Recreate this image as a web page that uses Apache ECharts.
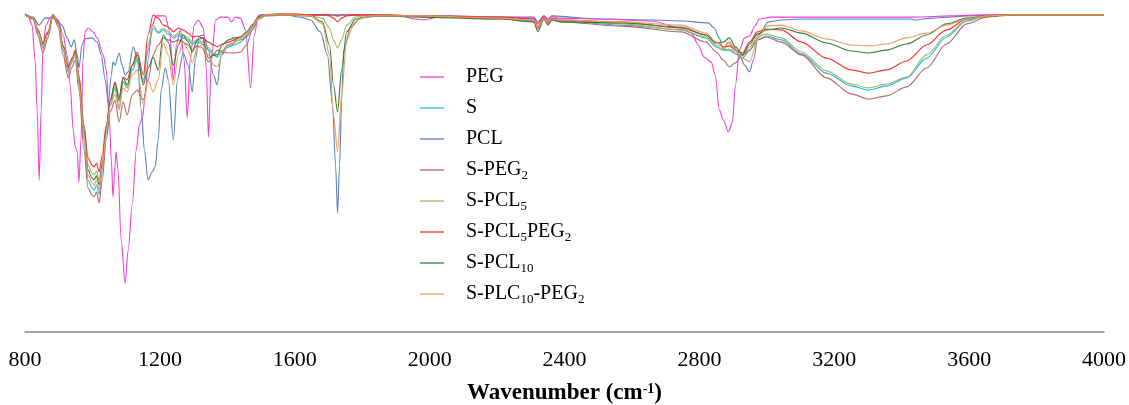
<!DOCTYPE html>
<html>
<head>
<meta charset="utf-8">
<script src="https://cdn.jsdelivr.net/npm/echarts@6/dist/echarts.min.js"></script>
<style>
  html, body { margin: 0; padding: 0; background: #fff; }
  #chart { width: 1129px; height: 405px; }
</style>
</head>
<body>
<div id="chart"></div>
<script>
// FTIR spectra, transmittance (%) vs wavenumber (cm-1)
var xTicks = [800, 1200, 1600, 2000, 2400, 2800, 3200, 3600, 4000];

// PEG
var wnPEG = [800,809,821,830,836,842,848,853,862,874,883,898,913,925,934,943,949,955,960,966,972,978,987,1002,1014,1032,1041,1050,1056,1061,1067,1070,1076,1085,1097,1106,1118,1130,1139,1148,1157,1165,1177,1189,1216,1228,1240,1249,1261,1272,1281,1290,1302,1314,1329,1338,1344,1353,1365,1379,1403,1412,1424,1439,1454,1469,1480,1492,1528,1766,1914,1959,1983,2009,2033,2211,2309,2321,2339,2351,2363,2381,2508,2657,2746,2776,2797,2814,2835,2847,2859,2871,2886,2898,2907,2919,2934,2949,2963,2978,3014,3251,3438,3548,3646,4000];
var tPEG = [99.4,98.8,95.9,85.0,69.4,47.5,69.4,88.1,95.9,98.1,99.1,97.5,92.8,86.6,77.2,63.1,57.8,56.3,46.9,60.0,85.0,93.8,95.0,93.8,91.9,86.6,81.9,66.3,53.8,42.2,52.2,56.3,50.6,28.8,15.3,25.6,39.7,56.9,64.7,66.9,74.1,85.0,95.9,98.8,98.8,94.4,78.8,89.7,94.4,85.0,66.9,85.0,95.9,97.5,95.0,81.9,60.9,85.0,97.5,98.4,98.4,96.9,98.4,98.1,94.4,76.3,92.8,98.8,99.1,99.1,98.8,97.8,97.5,98.1,98.8,98.4,98.1,96.3,98.8,97.5,98.8,98.1,97.8,97.2,95.0,93.4,89.7,85.9,84.4,80.3,69.4,66.3,62.5,65.6,77.2,88.1,91.9,92.5,95.3,97.8,98.4,98.4,98.4,98.8,99.1,99.1];

// PCL
var wnPCL = [800,824,842,859,889,910,925,937,946,955,960,969,978,999,1014,1026,1038,1047,1056,1061,1067,1079,1088,1097,1106,1121,1133,1145,1154,1165,1177,1186,1195,1204,1216,1225,1240,1252,1269,1284,1296,1305,1317,1329,1344,1359,1370,1382,1400,1415,1430,1445,1460,1477,1498,1558,1617,1647,1676,1697,1712,1721,1727,1733,1739,1745,1766,1795,1846,1974,2309,2321,2339,2351,2363,2508,2657,2746,2826,2844,2859,2871,2886,2901,2919,2934,2949,2960,2975,3005,3043,3103,3251,3429,3438,3489,3599,3697,4000];
var tPCL = [99.4,98.4,95.9,98.1,98.1,95.9,91.9,89.1,91.3,86.6,82.5,89.7,91.6,91.9,90.6,86.6,78.8,71.6,80.3,84.4,83.4,87.2,83.4,80.3,81.3,89.1,85.6,69.4,56.9,47.5,50.0,51.6,60.0,75.6,82.5,78.8,60.0,78.8,87.2,83.4,75.0,85.0,92.5,92.8,88.1,80.3,77.2,86.6,89.7,89.7,92.2,91.3,92.8,95.9,99.1,99.4,98.4,97.5,93.8,86.6,70.9,52.2,37.2,52.2,72.5,88.1,95.3,98.1,98.8,98.8,98.4,96.9,98.8,97.8,98.8,97.8,97.5,97.2,96.6,95.0,91.9,88.1,90.6,89.1,86.6,83.4,81.3,85.0,92.8,96.9,97.5,97.8,97.8,97.8,97.5,98.1,98.8,99.1,99.1];

// the six blend samples share one wavenumber grid
var wnSample = [800,824,839,853,868,883,898,913,928,940,949,960,975,987,999,1005,1012,1020,1029,1041,1053,1067,1079,1091,1103,1118,1133,1151,1165,1180,1195,1210,1225,1240,1255,1269,1284,1296,1311,1326,1344,1359,1370,1385,1403,1421,1439,1457,1474,1492,1513,1587,1647,1682,1703,1715,1727,1739,1754,1780,1825,1974,2211,2309,2321,2339,2351,2363,2390,2568,2746,2820,2850,2871,2889,2907,2928,2949,2972,2999,3043,3103,3177,3251,3302,3355,3415,3474,3533,3593,3652,3727,4000];

var tS = [99.1,98.1,93.4,88.8,92.8,99.1,96.3,88.1,81.3,84.4,
  86.6,77.2,60.0,47.5,45.0,44.4,45.9,43.1,50.0,61.6,
  70.9,76.3,70.0,78.1,76.3,81.9,85.0,78.1,88.1,95.0,
  93.4,94.4,93.1,91.9,92.8,91.9,91.3,90.0,90.6,90.0,
  88.1,86.6,85.9,87.5,89.1,89.7,90.6,92.2,95.0,97.8,
  99.1,99.1,99.1,99.1,99.1,99.1,98.8,99.1,99.1,99.1,
  99.1,98.8,98.1,97.2,95.0,98.1,96.6,97.8,97.2,95.9,
  94.4,91.9,89.1,88.1,88.1,86.9,85.6,88.1,91.3,92.5,
  91.3,86.9,80.9,76.9,75.6,76.9,79.4,85.6,92.2,97.2,
  98.8,99.1,99.1];

var tSPEG2 = [99.1,97.8,92.5,87.2,91.9,98.8,95.6,86.6,79.4,82.8,
  85.0,75.6,56.9,45.0,42.8,42.2,43.8,40.3,47.5,60.0,
  68.8,72.5,65.6,71.9,67.8,74.1,75.6,72.5,78.8,86.6,
  89.7,91.9,91.3,90.6,91.3,90.6,89.7,88.1,89.4,88.8,
  84.4,86.6,88.1,87.5,87.2,87.2,87.5,89.7,94.4,97.8,
  98.8,99.1,99.1,99.1,99.1,99.1,98.8,99.1,99.1,99.1,
  99.1,98.8,97.8,96.9,94.7,97.8,96.3,97.5,96.9,95.6,
  93.8,90.6,87.5,85.0,82.8,84.1,86.6,88.1,91.3,92.2,
  90.6,86.6,79.4,74.4,72.8,73.8,76.6,82.5,90.0,96.3,
  98.4,99.1,99.1];

var tSPCL5 = [99.1,98.1,93.8,89.7,93.4,99.1,96.6,89.1,81.9,85.0,
  87.2,78.8,63.1,52.2,49.7,49.1,50.3,47.5,53.1,63.1,
  71.6,76.6,71.9,78.1,76.3,81.9,85.6,78.8,89.7,95.9,
  93.8,95.0,93.8,92.5,93.4,92.8,91.9,90.6,91.3,90.6,
  88.8,87.2,86.6,88.1,89.7,90.6,91.3,92.8,95.3,98.1,
  99.1,99.1,98.8,98.1,95.0,91.3,88.8,91.3,95.9,98.4,
  99.1,98.8,98.1,97.5,95.3,98.4,96.9,98.1,97.5,96.3,
  94.4,92.2,89.7,88.1,88.4,87.5,86.3,89.1,92.2,93.1,
  91.9,87.5,81.6,77.5,76.3,77.5,79.7,86.6,92.8,97.5,
  98.8,99.1,99.1];

var tSPCL5PEG2 = [99.1,98.1,94.4,90.3,93.8,99.1,96.9,89.7,83.1,85.6,
  88.1,80.3,64.7,54.4,52.2,51.6,52.8,50.0,55.3,64.7,
  72.5,78.1,73.4,79.7,78.8,83.4,87.5,80.3,92.8,99.1,
  98.1,95.9,95.3,93.8,95.0,94.4,93.4,92.2,92.5,91.9,
  90.6,89.7,89.1,90.0,90.6,91.3,92.2,93.4,95.9,98.4,
  99.1,99.4,99.1,99.1,98.8,98.1,96.9,98.1,98.8,99.1,
  99.1,98.8,98.4,97.8,95.3,98.4,96.9,98.1,97.5,96.9,
  95.0,92.8,90.6,89.1,89.4,88.1,87.2,90.6,93.8,94.7,
  94.4,90.6,85.6,81.9,80.9,81.9,84.7,89.7,94.4,97.8,
  98.8,99.1,99.1];

var tSPCL10 = [99.1,98.1,94.1,90.0,93.4,99.1,96.6,89.4,82.5,85.3,
  87.5,79.4,63.1,50.6,48.1,47.5,48.8,45.9,52.2,63.8,
  72.5,77.8,72.5,79.4,77.2,83.4,86.6,77.2,82.5,85.9,
  81.9,92.8,90.6,83.4,89.7,92.8,90.6,87.5,91.3,91.9,
  85.6,86.6,86.6,89.7,91.3,91.9,92.2,93.8,95.9,98.4,
  99.1,99.1,98.8,96.9,89.7,77.2,68.8,81.9,93.8,97.8,
  98.8,98.4,97.8,96.9,93.8,97.8,95.9,97.5,96.9,96.6,
  95.3,92.8,90.3,90.6,91.9,89.1,86.6,90.0,93.1,94.4,
  95.0,93.4,90.3,87.8,87.2,88.1,90.0,92.8,96.3,98.1,
  98.8,99.1,99.1];

var tSPLC10PEG2 = [99.1,98.1,93.8,89.4,93.1,99.1,96.6,88.8,81.9,85.0,
  86.9,78.1,61.6,49.1,46.6,45.9,47.5,44.4,51.3,62.5,
  70.9,74.1,69.4,76.3,75.0,80.3,81.9,70.9,78.8,75.0,
  78.8,90.3,86.6,77.2,86.6,90.6,88.1,84.1,88.8,89.7,
  86.6,83.4,82.8,86.6,89.7,90.6,91.9,93.4,95.6,98.1,
  99.1,99.1,98.8,96.3,86.6,67.8,56.3,74.1,91.3,97.5,
  98.8,98.8,98.1,97.5,95.0,98.1,96.6,97.8,97.5,96.9,
  95.9,93.4,90.6,88.8,90.6,88.1,85.6,84.4,91.3,95.6,
  95.9,94.1,91.6,89.7,89.4,90.0,91.9,93.4,95.9,97.8,
  98.8,99.1,99.1];

var names = ['PEG', 'S', 'PCL', 'S-PEG2', 'S-PCL5', 'S-PCL5PEG2', 'S-PCL10', 'S-PLC10-PEG2'];
var colors = ['#f03fdc', '#20b6ec', '#5a80b6', '#b8675f', '#9dba64', '#ff2d2d', '#3b7b3b', '#ee9c5e'];
var waves = [wnPEG, wnSample, wnPCL, wnSample, wnSample, wnSample, wnSample, wnSample];
var values = [tPEG, tS, tPCL, tSPEG2, tSPCL5, tSPCL5PEG2, tSPCL10, tSPLC10PEG2];

function pairs(wn, t) {
  var out = [];
  for (var i = 0; i < Math.min(wn.length, t.length); i++) out.push([wn[i], t[i]]);
  return out;
}

var series = names.map(function (n, i) {
  return {
    name: n,
    type: 'line',
    data: pairs(waves[i], values[i]),
    symbol: 'none',
    smooth: 0.3,
    smoothMonotone: 'x',
    lineStyle: { width: 1.1, color: colors[i] },
    itemStyle: { color: colors[i], opacity: 0.65 },
    z: i === 2 ? 1 : 2
  };
});

var chart = echarts.init(document.getElementById('chart'), null, { renderer: 'canvas' });
chart.setOption({
  animation: false,
  backgroundColor: '#fff',
  grid: { left: 25, right: 25, top: 12, bottom: 73, outerBoundsMode: 'none', containLabel: false },
  legend: {
    orient: 'vertical',
    left: 415,
    top: 60,
    icon: 'rect',
    itemWidth: 24,
    itemHeight: 2,
    itemGap: 7,
    data: names,
    formatter: function (name) {
      return name.replace(/(\d+)/g, '{sub|$1}');
    },
    textStyle: {
      fontFamily: 'Liberation Serif',
      fontSize: 20,
      color: '#000',
      lineHeight: 24,
      padding: [0, 0, 0, 17],
      rich: {
        sub: { fontFamily: 'Liberation Serif', fontSize: 13, lineHeight: 13, verticalAlign: 'bottom', color: '#000' }
      }
    }
  },
  xAxis: {
    type: 'value',
    min: xTicks[0],
    max: xTicks[xTicks.length - 1],
    interval: 400,
    axisLine: { lineStyle: { color: '#888', width: 1.5 } },
    axisTick: { show: false },
    splitLine: { show: false },
    axisLabel: {
      margin: 17,
      fontFamily: 'Liberation Serif',
      fontSize: 22,
      color: '#000',
      formatter: function (v) { return String(v); }
    },
    name: 'Wavenumber (cm{sup|-1})',
    nameLocation: 'middle',
    nameGap: 50,
    nameTextStyle: {
      fontFamily: 'Liberation Serif',
      fontSize: 23,
      fontWeight: 'bold',
      color: '#000',
      rich: {
        sup: { fontFamily: 'Liberation Serif', fontSize: 14, fontWeight: 'bold', lineHeight: 14, verticalAlign: 'top', color: '#000' }
      }
    }
  },
  yAxis: { type: 'value', min: 0, max: 100, show: false },
  series: series
});
</script>
</body>
</html>
